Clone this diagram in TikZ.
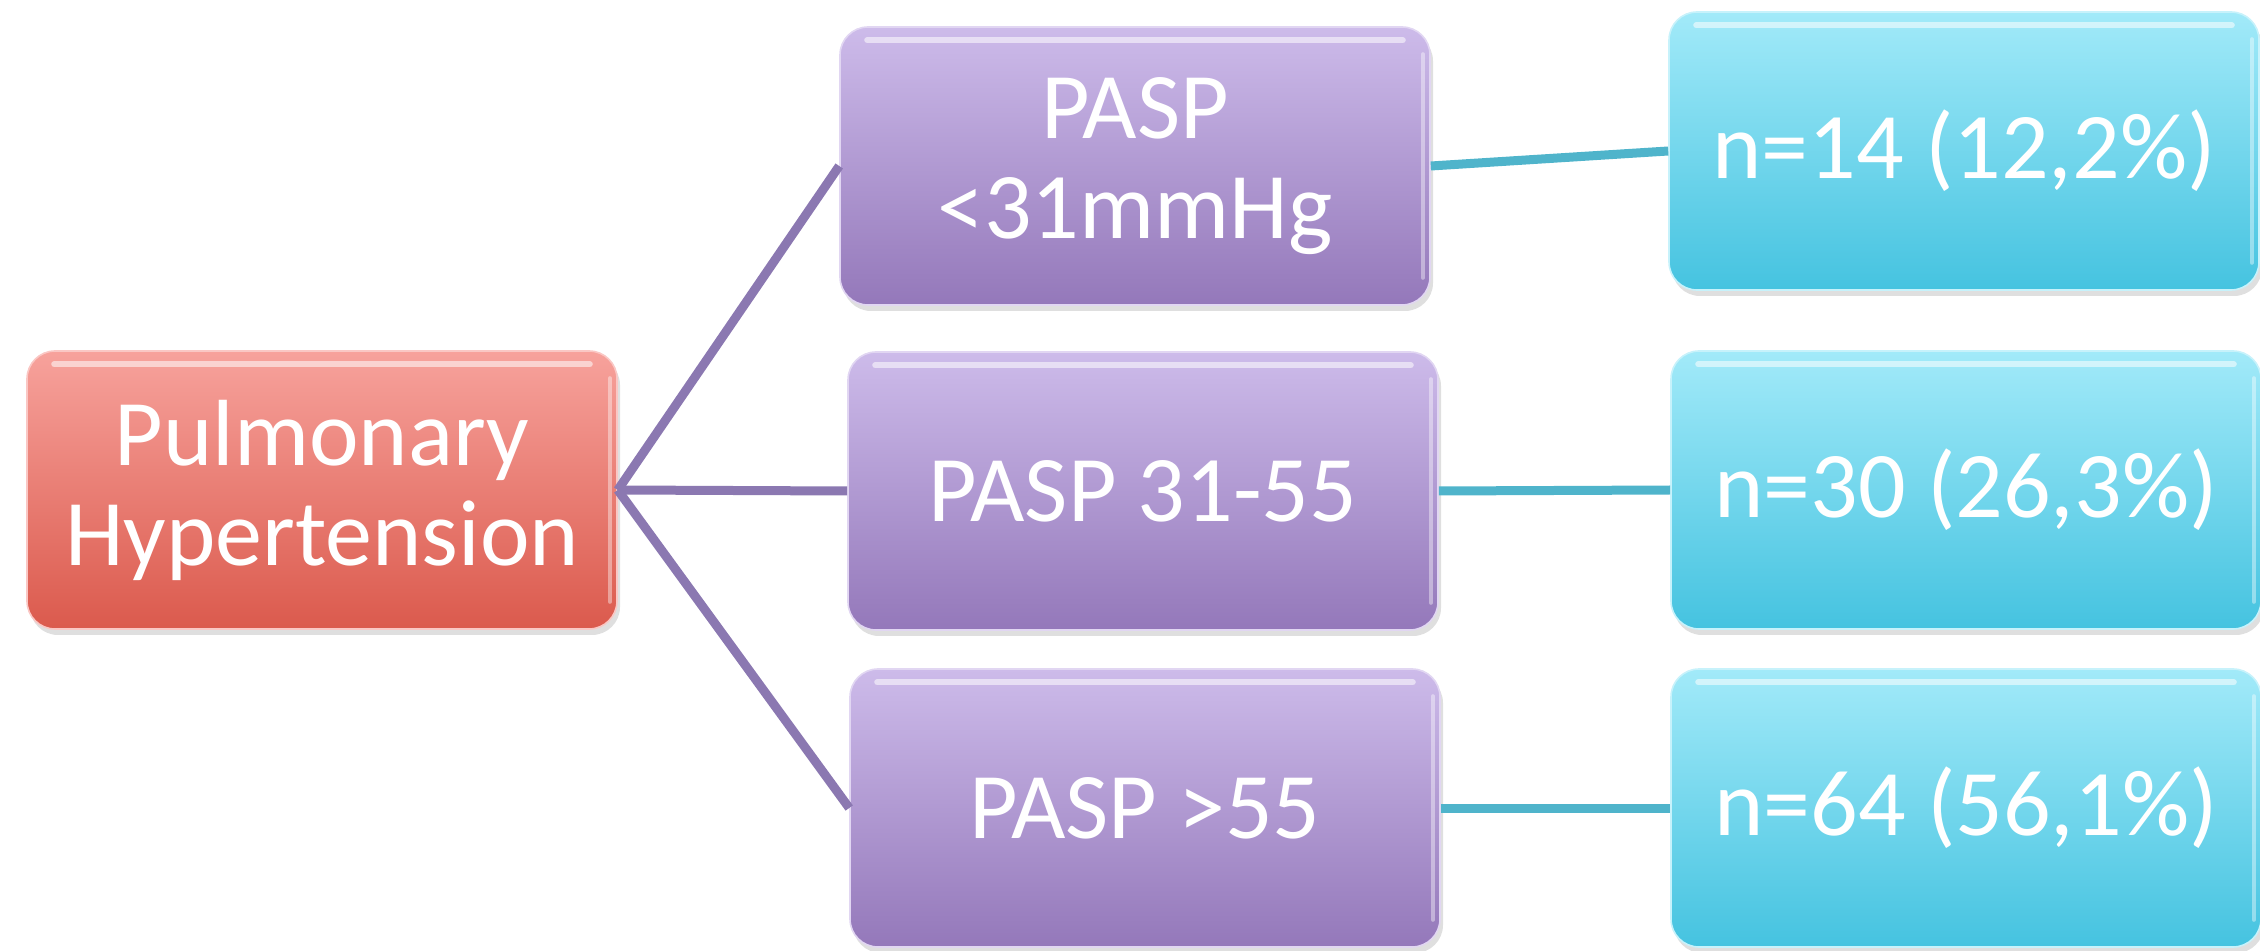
\documentclass[tikz,border=0pt]{standalone}
\usepackage{fontspec}
\setmainfont{Carlito}
\usetikzlibrary{shadows}
\definecolor{redtop}{HTML}{F7A29C}
\definecolor{redbot}{HTML}{DB5A4D}
\definecolor{purtop}{HTML}{CDBBEA}
\definecolor{purbot}{HTML}{9478BA}
\definecolor{cyatop}{HTML}{A2EAF9}
\definecolor{cyabot}{HTML}{45C3E0}
\definecolor{purline}{HTML}{8B78B1}
\definecolor{cyaline}{HTML}{4FB4CB}
\tikzset{
  gbox/.style={rectangle, rounded corners=14pt, minimum width=295pt, minimum height=139pt,
    inner sep=0pt, align=center, text=white, font=\fontsize{47}{50}\selectfont,
    drop shadow={opacity=0.25, shadow xshift=1.5pt, shadow yshift=-3pt}},
  redbox/.style={gbox, top color=redtop, bottom color=redbot, draw=redtop!60!white, line width=0.8pt},
  purbox/.style={gbox, top color=purtop, bottom color=purbot, draw=purtop!60!white, line width=0.8pt},
  cyabox/.style={gbox, top color=cyatop, bottom color=cyabot, draw=cyatop!60!white, line width=0.8pt},
  pconn/.style={draw=purline, line width=4.5pt},
  cconn/.style={draw=cyaline, line width=4.5pt},
  gloss/.style={draw=white, opacity=0.55, line width=3pt, line cap=round},
}
\begin{document}
\begin{tikzpicture}[x=0.5pt,y=-0.5pt]
\useasboundingbox (0,0) rectangle (2260,951);
\node[redbox] (ph) at (322,490) {Pulmonary\\Hypertension};
\node[purbox] (p1) at (1135,166) {PASP\\<31mmHg};
\node[purbox] (p2) at (1143,491) {PASP 31-55};
\node[purbox] (p3) at (1145,808) {PASP >55};
\node[cyabox] (c1) at (1964,151) {n=14 (12,2\%)};
\node[cyabox] (c2) at (1966,490) {n=30 (26,3\%)};
\node[cyabox] (c3) at (1966,808) {n=64 (56,1\%)};
\foreach \n in {ph,p1,p2,p3,c1,c2,c3}{
  \draw[gloss] ([xshift=14pt,yshift=-7pt]\n.north west) -- ([xshift=-14pt,yshift=-7pt]\n.north east);
  \draw[gloss, opacity=0.4, line width=2pt] ([xshift=-4pt,yshift=-14pt]\n.north east) -- ([xshift=-4pt,yshift=14pt]\n.south east);
}
\draw[pconn] (ph.east) -- (p1.west);
\draw[pconn] (ph.east) -- (p2.west);
\draw[pconn] (ph.east) -- (p3.west);
\draw[cconn] (p1.east) -- (c1.west);
\draw[cconn] (p2.east) -- (c2.west);
\draw[cconn] (p3.east) -- (c3.west);
\end{tikzpicture}
\end{document}
